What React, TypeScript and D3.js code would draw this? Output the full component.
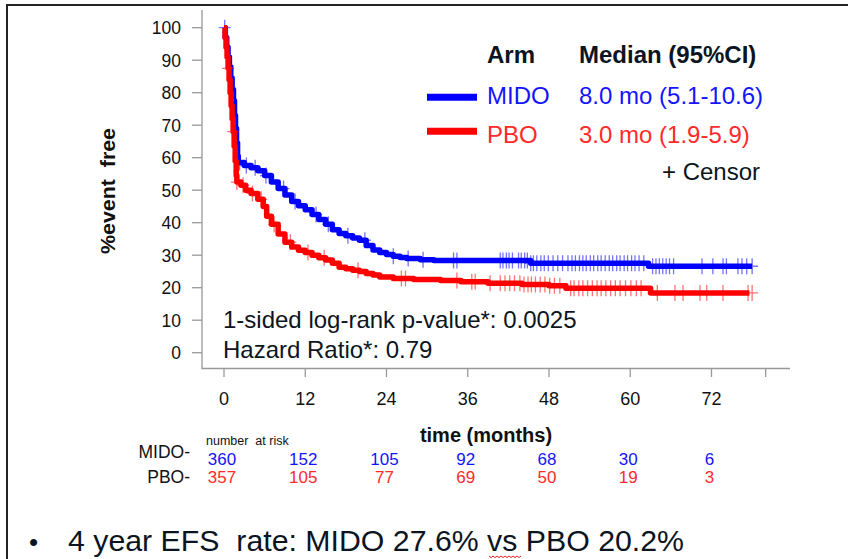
import React from 'react';
import * as d3 from 'd3';

const yTicks = [0, 10, 20, 30, 40, 50, 60, 70, 80, 90, 100];
const xTicks = [0, 12, 24, 36, 48, 60, 72];
const xMinorTicks = [80];

const midoKM: [number, number][] = [
  [0, 100], [0.2, 97], [0.4, 94], [0.6, 91], [0.8, 88], [1.0, 84.5], [1.2, 81], [1.4, 77.5], [1.55, 73], [1.7, 69],
  [1.85, 64.5], [2.0, 60.5], [2.1, 58.5],
  [3, 57.6], [4, 56.9], [5, 56], [6, 54.5], [7, 52.5], [8, 50.5], [9, 48.5], [10, 46.5], [11, 45.2], [12, 44],
  [13, 42.5], [14, 41], [15, 39.5], [16, 37.8], [17, 36.7], [18, 36], [19, 35.3], [20, 34.6], [21, 33], [22, 31.6],
  [23, 30.8], [24, 30.2], [25, 29.7], [26, 29.3], [27, 29], [29, 28.6], [31, 28.4], [45.3, 27.5], [62.7, 26.6], [78, 26.6],
];

const pboKM: [number, number][] = [
  [0, 100], [0.15, 97], [0.3, 94], [0.45, 91], [0.6, 87.5], [0.75, 84], [0.9, 80], [1.05, 76], [1.2, 72], [1.35, 68],
  [1.5, 63.5], [1.65, 59], [1.8, 54.5], [1.9, 52.5], [2.5, 51.5], [3.2, 50], [4, 49], [5, 47.2], [5.8, 45], [6.3, 42],
  [7, 39.5], [8, 36.5], [9, 34], [10, 32.5], [11, 31.5], [12, 30.8], [13, 30], [14, 29.2], [15, 28.5], [16, 27.5],
  [17, 26.3], [18, 25.8], [19, 25.4], [20, 25], [21, 24.4], [22, 23.9], [23, 23.3], [25, 22.8], [28, 22.5], [32, 22.2],
  [35, 21.8], [39, 21.4], [44, 21], [48, 20.6], [50.5, 19.8], [63, 18.4], [77.6, 18.4],
];

const midoCensor = [
  0.1, 2.3, 3.3, 4.6, 6.2, 8.8, 10.5, 13.6, 15.4, 18.3, 20.8, 25.0, 27.2, 29.4, 33.9, 34.4,
  40.8, 41.2, 41.7, 42.1, 42.6, 43.5, 43.9, 44.4, 44.8, 45.3, 45.7, 46.2, 46.8, 47.3, 47.9, 48.6, 49.3,
  50.0, 50.8, 51.4, 51.9, 52.5, 53.0, 53.5, 54.1, 54.6, 55.2, 55.7, 56.3, 56.9, 57.4, 58.0, 58.5, 59.1,
  59.6, 60.2, 60.7, 61.3, 62.0, 63.3, 63.8, 64.3, 64.8, 65.3, 65.8, 66.4, 70.6, 72.2, 73.7, 74.2, 75.9,
  76.5, 77.2, 78.0,
];

const pboCensor = [
  0.6, 1.35, 1.9, 2.8, 4.2, 5.5, 7.4, 9.8, 12.4, 14.8, 19.8, 26.2, 26.8, 34.4, 36.6, 37.1, 39.3,
  40.8, 41.5, 42.2, 42.9, 43.7, 44.3, 44.9, 45.4, 46.0, 46.7, 47.4, 48.1, 48.8, 49.6, 51.2, 51.7,
  52.4, 53.0, 53.7, 54.4, 55.1, 55.7, 56.4, 57.1, 57.8, 58.5, 59.3, 60.1, 60.9, 61.6, 64.0, 66.6,
  67.8, 70.3, 71.3, 73.7, 77.4, 78.0,
];

const atRiskTimes = [0, 12, 24, 36, 48, 60, 72];
const midoAtRisk = [360, 152, 105, 92, 68, 30, 6];
const pboAtRisk = [357, 105, 77, 69, 50, 19, 3];

const BLUE = '#0000ff';
const RED = '#ff0000';
const BLUE_TXT = '#1414ff';
const RED_TXT = '#ff2a2a';
const DARK = '#0b1522';
const FONT = "'Liberation Sans', Arial, sans-serif";

function survAt(data: [number, number][], t: number): number {
  let v = data[0][1];
  for (const [tt, vv] of data) {
    if (tt <= t) v = vv;
    else break;
  }
  return v;
}

const pre: React.CSSProperties = { whiteSpace: 'pre' };

export default function App() {
  const x = d3.scaleLinear().domain([0, 72]).range([224, 711.5]);
  const y = d3.scaleLinear().domain([0, 100]).range([352.7, 27.7]);

  const line = d3
    .line<[number, number]>()
    .x((d) => x(d[0]))
    .y((d) => y(d[1]))
    .curve(d3.curveStepAfter);

  const censorPath = (data: [number, number][], times: number[]) =>
    times
      .map((t) => {
        const cx = x(t);
        const cy = y(survAt(data, t));
        return `M${cx - 6},${cy}H${cx + 6}M${cx},${cy - 8}V${cy + 8}`;
      })
      .join('');

  // spell-check squiggle under "vs"
  let squiggle = 'M489,556';
  for (let i = 1; i <= 16; i++) {
    squiggle += `L${489 + i * 2},${556 + (i % 2 === 0 ? 0 : 1.6)}`;
  }

  return (
    <svg
      width={848}
      height={559}
      style={{ position: 'absolute', left: 0, top: 0, background: '#fff' }}
      fontFamily={FONT}
    >
      <rect x={0} y={0} width={848} height={559} fill="#fff" />
      <rect x={7} y={5} width={900} height={600} fill="none" stroke="#222" strokeWidth={2} />

      {/* axes */}
      <g stroke="#999" strokeWidth={1.3} fill="none">
        <path d={`M${x(0) - 22},10V368.5H790`} />
        {yTicks.map((v) => (
          <path key={'yt' + v} d={`M${x(0) - 22},${y(v)}H${x(0) - 32}`} />
        ))}
        {xTicks.concat(xMinorTicks).map((t) => (
          <path key={'xt' + t} d={`M${x(t)},368.5V377`} />
        ))}
      </g>
      <g fontSize={17.5} fill="#111" textAnchor="end">
        {yTicks.map((v) => (
          <text key={'yl' + v} x={181} y={y(v)} dy="0.36em">
            {v}
          </text>
        ))}
      </g>
      <g fontSize={18} fill="#111" textAnchor="middle">
        {xTicks.map((t) => (
          <text key={'xl' + t} x={x(t)} y={405}>
            {t}
          </text>
        ))}
      </g>
      <text
        transform="translate(115,191) rotate(-90)"
        textAnchor="middle"
        fontWeight="bold"
        fontSize={21}
        fill="#111"
        textLength={126}
        lengthAdjust="spacingAndGlyphs"
        style={pre}
      >
        {'%event  free'}
      </text>
      <text x={486} y={442} textAnchor="middle" fontWeight="bold" fontSize={20} fill="#111">
        time (months)
      </text>

      {/* curves */}
      <path d={censorPath(midoKM, midoCensor)} stroke={BLUE} strokeOpacity={0.55} strokeWidth={1.3} fill="none" />
      <path d={line(midoKM) || ''} stroke={BLUE} strokeWidth={5.5} fill="none" strokeLinejoin="round" />
      <path d={censorPath(pboKM, pboCensor)} stroke={RED} strokeOpacity={0.55} strokeWidth={1.3} fill="none" />
      <path d={line(pboKM) || ''} stroke={RED} strokeWidth={5.5} fill="none" strokeLinejoin="round" />

      {/* legend */}
      <text x={487} y={63} fontWeight="bold" fontSize={24} fill={DARK}>Arm</text>
      <text x={579} y={63} fontWeight="bold" fontSize={24} fill={DARK}>Median (95%CI)</text>
      <line x1={427} x2={477} y1={97.3} y2={97.3} stroke={BLUE} strokeWidth={7} />
      <line x1={427} x2={477} y1={131.3} y2={131.3} stroke={RED} strokeWidth={7} />
      <text x={487} y={103.5} fontSize={24} fill={BLUE_TXT}>MIDO</text>
      <text x={579} y={103.5} fontSize={24} fill={BLUE_TXT}>8.0 mo (5.1-10.6)</text>
      <text x={487} y={143} fontSize={24} fill={RED_TXT}>PBO</text>
      <text x={579} y={143} fontSize={24} fill={RED_TXT}>3.0 mo (1.9-5.9)</text>
      <text x={662} y={180} fontSize={24} fill={DARK}>+ Censor</text>

      {/* stats */}
      <text x={223} y={328} fontSize={24} fill={DARK}>1-sided log-rank p-value*: 0.0025</text>
      <text x={223} y={358} fontSize={24} fill={DARK}>Hazard Ratio*: 0.79</text>

      {/* number at risk */}
      <text x={206} y={445} fontSize={12.5} fill="#111" style={pre}>{'number  at risk'}</text>
      <text x={190} y={458} fontSize={17.5} fill="#111" textAnchor="end">MIDO-</text>
      <text x={190} y={483} fontSize={17.5} fill="#111" textAnchor="end">PBO-</text>
      <g fontSize={17} textAnchor="middle">
        {atRiskTimes.map((t, i) => (
          <text key={'mr' + t} x={x(t) - 2} y={465} fill={BLUE_TXT}>
            {midoAtRisk[i]}
          </text>
        ))}
        {atRiskTimes.map((t, i) => (
          <text key={'pr' + t} x={x(t) - 2} y={483} fill={RED_TXT}>
            {pboAtRisk[i]}
          </text>
        ))}
      </g>

      {/* bottom bullet */}
      <text x={29} y={551} fontSize={26} fill={DARK}>•</text>
      <text
        x={68}
        y={551}
        fontSize={29}
        fill={DARK}
        fontFamily="'Liberation Sans Narrow', 'Liberation Sans', Arial, sans-serif"
        textLength={616}
        lengthAdjust="spacingAndGlyphs"
        style={pre}
      >
        {'4 year EFS  rate: MIDO 27.6% vs PBO 20.2%'}
      </text>
      <path d={squiggle} stroke="#d22" strokeWidth={1} fill="none" />
    </svg>
  );
}
